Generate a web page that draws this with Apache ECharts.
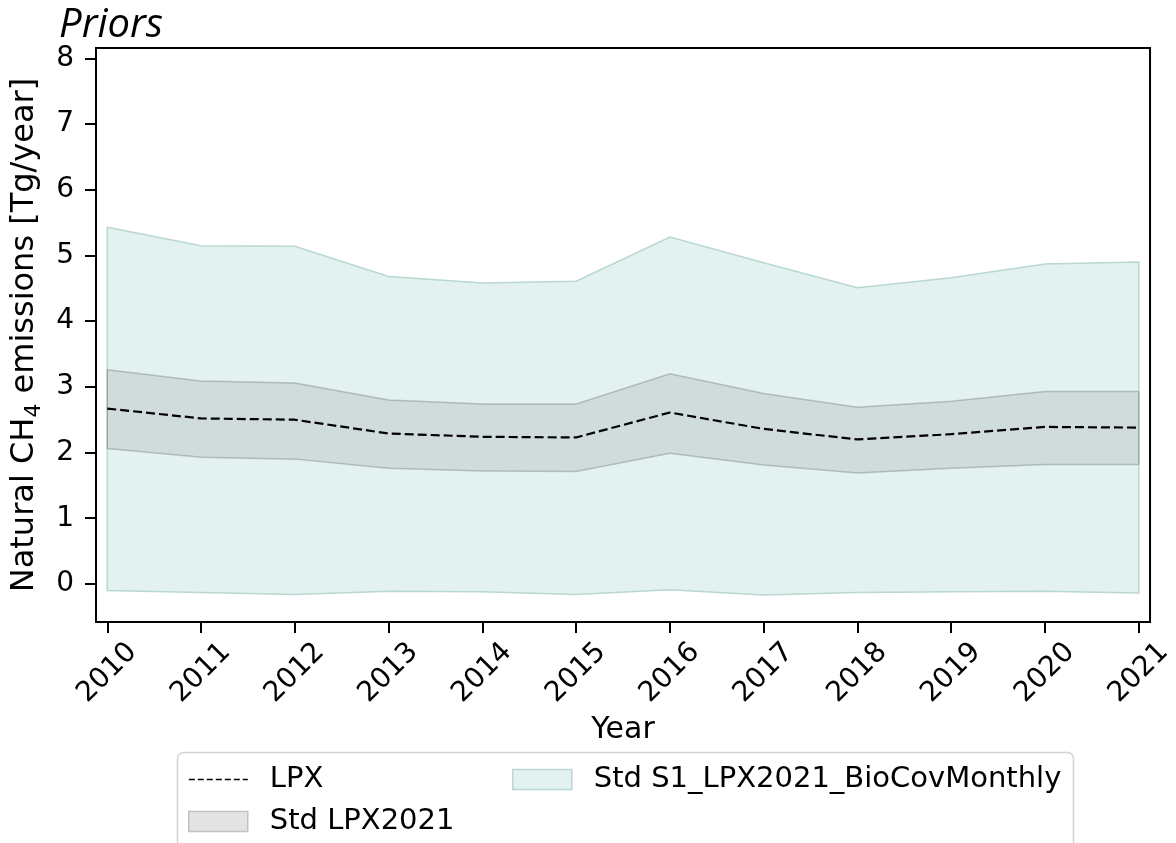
<!DOCTYPE html>
<html>
<head>
<meta charset="utf-8">
<script src="https://cdn.jsdelivr.net/npm/echarts@6/dist/echarts.min.js"></script>
<style>
  html, body { margin: 0; padding: 0; background: #fff; }
  #chart { width: 1176px; height: 843px; }
</style>
</head>
<body>
<div id="chart"></div>
<script>
// Prior natural CH4 emissions, 2010-2021 (Tg/year)
const years = [2010, 2011, 2012, 2013, 2014, 2015, 2016, 2017, 2018, 2019, 2020, 2021];
const lpxMean = [2.67, 2.52, 2.50, 2.29, 2.24, 2.23, 2.61, 2.36, 2.20, 2.28, 2.39, 2.38];
const lpxStdLow = [2.06, 1.93, 1.90, 1.76, 1.72, 1.71, 1.99, 1.81, 1.69, 1.76, 1.82, 1.82];
const lpxStdHigh = [3.26, 3.09, 3.06, 2.80, 2.74, 2.74, 3.20, 2.90, 2.69, 2.78, 2.93, 2.93];
const s1StdLow = [-0.10, -0.13, -0.16, -0.11, -0.12, -0.16, -0.09, -0.17, -0.13, -0.12, -0.11, -0.14];
const s1StdHigh = [5.43, 5.15, 5.14, 4.68, 4.58, 4.61, 5.28, 4.89, 4.51, 4.66, 4.87, 4.90];
const yTicks = [0, 1, 2, 3, 4, 5, 6, 7, 8];

const FONT = 'DejaVu Sans';
const TEAL_FILL = '#e3f1f0';
const TEAL_EDGE = '#b9d7d3';

// Closed band polygon (fill_between style) built through the axis scales
function bandRenderer(low, high, fill, stroke) {
  return function (params, api) {
    if (params.dataIndex !== 0) return null;
    const pts = [];
    for (let i = 0; i < years.length; i++) pts.push(api.coord([years[i], high[i]]));
    for (let i = years.length - 1; i >= 0; i--) pts.push(api.coord([years[i], low[i]]));
    return {
      type: 'polygon',
      shape: { points: pts },
      style: { fill: fill, stroke: stroke, lineWidth: 1.5 }
    };
  };
}

const bandData = (low, high) => years.map((y, i) => [y, low[i], high[i]]);

const chart = echarts.init(document.getElementById('chart'), null, { renderer: 'canvas' });

const legendText = { fontFamily: FONT, fontSize: 29, color: '#000', padding: [0, 0, 0, 17] };

chart.setOption({
  animation: false,
  backgroundColor: '#fff',
  textStyle: { fontFamily: FONT, color: '#000' },
  title: {
    text: 'Priors',
    left: 54,
    top: 1,
    textStyle: { fontFamily: 'Open Sans', fontStyle: 'italic', fontWeight: 'normal', fontSize: 40, color: '#000' }
  },
  grid: {
    left: 96, right: 20, top: 48, bottom: 221,
    show: true, borderColor: '#000', borderWidth: 2, backgroundColor: 'transparent'
  },
  xAxis: {
    type: 'value',
    min: 2009.88,
    max: 2021.12,
    name: 'Year',
    nameLocation: 'middle',
    nameGap: 92,
    nameTextStyle: { fontFamily: FONT, fontSize: 30, color: '#000' },
    axisLine: { show: false, onZero: false },
    splitLine: { show: false },
    axisTick: { show: true, inside: false, length: 11, customValues: years, lineStyle: { color: '#000', width: 2 } },
    axisLabel: {
      customValues: years,
      rotate: 45,
      align: 'center',
      verticalAlign: 'middle',
      margin: 51,
      fontFamily: FONT, fontSize: 28, color: '#000',
      formatter: v => String(Math.round(v))
    }
  },
  yAxis: {
    type: 'value',
    min: -0.58,
    max: 8.16,
    name: '{a|Natural CH}{s|4}{a| emissions [Tg/year]}',
    nameLocation: 'middle',
    nameGap: 52,
    nameRotate: 90,
    nameTextStyle: {
      fontFamily: FONT, fontSize: 32, color: '#000',
      rich: {
        a: { fontFamily: FONT, fontSize: 32, color: '#000' },
        s: { fontFamily: FONT, fontSize: 22, color: '#000', verticalAlign: 'bottom', padding: [0, 0, -5, 0] }
      }
    },
    axisLine: { show: false, onZero: false },
    splitLine: { show: false },
    axisTick: { show: true, inside: false, length: 11, customValues: yTicks, lineStyle: { color: '#000', width: 2 } },
    axisLabel: {
      customValues: yTicks,
      margin: 22,
      fontFamily: FONT, fontSize: 28, color: '#000'
    }
  },
  graphic: [{
    type: 'rect',
    z: 1,
    shape: { x: 177.5, y: 752.5, width: 896, height: 140, r: 6 },
    style: { fill: 'rgba(255,255,255,0.85)', stroke: '#d3d3d3', lineWidth: 1.5 }
  }],
  legend: [
    {
      left: 188, top: 765, itemWidth: 59, itemHeight: 20, padding: 0, z: 5,
      data: [{
        name: 'LPX',
        itemStyle: { color: 'transparent', borderWidth: 0 },
        lineStyle: { color: '#000', width: 1.6, type: [6, 3] }
      }],
      textStyle: legendText
    },
    {
      left: 188, top: 807, itemWidth: 59, itemHeight: 20, padding: 0, z: 5,
      data: [{ name: 'Std LPX2021', icon: 'rect', itemStyle: { color: '#e3e3e3', borderColor: '#c2c2c2', borderWidth: 1.5 } }],
      textStyle: legendText
    },
    {
      left: 512, top: 765, itemWidth: 59, itemHeight: 20, padding: 0, z: 5,
      data: [{ name: 'Std S1_LPX2021_BioCovMonthly', icon: 'rect', itemStyle: { color: TEAL_FILL, borderColor: TEAL_EDGE, borderWidth: 1.5 } }],
      textStyle: legendText
    }
  ],
  series: [
    {
      name: 'Std S1_LPX2021_BioCovMonthly',
      type: 'custom',
      z: 1,
      itemStyle: { color: TEAL_FILL },
      data: bandData(s1StdLow, s1StdHigh),
      encode: { x: 0, y: [1, 2] },
      renderItem: bandRenderer(s1StdLow, s1StdHigh, TEAL_FILL, TEAL_EDGE)
    },
    {
      name: 'Std LPX2021',
      type: 'custom',
      z: 2,
      itemStyle: { color: '#e3e3e3' },
      data: bandData(lpxStdLow, lpxStdHigh),
      encode: { x: 0, y: [1, 2] },
      renderItem: bandRenderer(lpxStdLow, lpxStdHigh, 'rgba(0,0,0,0.085)', 'rgba(60,80,75,0.28)')
    },
    {
      name: 'LPX',
      type: 'line',
      z: 3,
      symbol: 'none',
      data: years.map((y, i) => [y, lpxMean[i]]),
      itemStyle: { color: '#000' },
      lineStyle: { color: '#000', width: 2.2, type: [9, 4] }
    }
  ]
});
</script>
</body>
</html>
